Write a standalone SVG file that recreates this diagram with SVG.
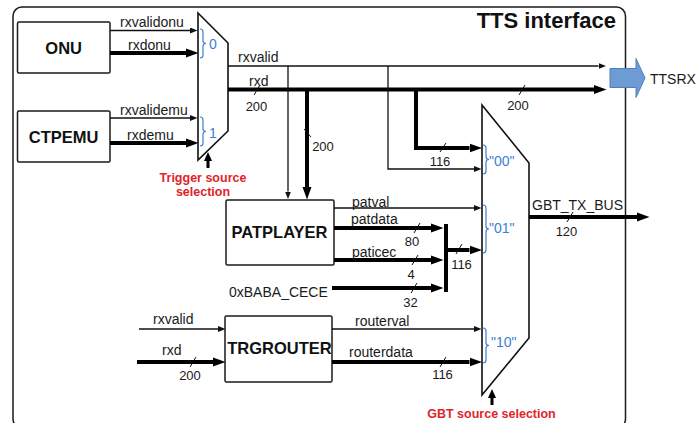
<svg xmlns="http://www.w3.org/2000/svg" width="697" height="423" viewBox="0 0 697 423">
<style>
text{font-family:"Liberation Sans",Arial,sans-serif;fill:#1a1a1a}
.lbl{font-size:14px}
.num{font-size:13px;text-anchor:middle}
.box{fill:#fff;stroke:#1a1a1a;stroke-width:1.5}
.bx{font-size:16.5px;font-weight:bold;text-anchor:middle;fill:#111}
.mux{fill:#fff;stroke:#111;stroke-width:1.6;stroke-linejoin:miter}
.thin{fill:none;stroke:#111;stroke-width:1.3}
.thick{fill:none;stroke:#000;stroke-width:4;stroke-linejoin:miter}
.sl{stroke:#111;stroke-width:1}
.brace{fill:none;stroke:#3b7fd4;stroke-width:1.2}
.sel{font-size:14px;fill:#3b7fd4}
.red{font-size:12.5px;font-weight:bold;fill:#e0242c;text-anchor:middle}
</style>
<defs>
<marker id="ah" markerUnits="userSpaceOnUse" markerWidth="8" markerHeight="6" refX="0" refY="3" orient="auto"><path d="M0,0 L7.5,3 L0,6 z" fill="#111"/></marker>
<marker id="ahk" markerUnits="userSpaceOnUse" markerWidth="13" markerHeight="10" refX="0" refY="5" orient="auto"><path d="M0,0.5 L12.5,5 L0,9.5 z" fill="#000"/></marker>
</defs>
<g id="frame">
<rect x="13" y="7" width="612.5" height="421" rx="9" fill="#fff" stroke="#1a1a1a" stroke-width="1.5"/>
<text x="616" y="28" style="font-size:22px;font-weight:bold;text-anchor:end;fill:#111">TTS interface</text>
</g>
<g id="onu"><rect class="box" x="17.5" y="22" width="92.5" height="51" rx="1.5"/><text class="bx" x="63.7" y="54">ONU</text></g>
<g id="ctpemu"><rect class="box" x="17.5" y="111" width="92.5" height="51" rx="1.5"/><text class="bx" x="63.7" y="143">CTPEMU</text></g>
<g id="mux1">
<polygon class="mux" points="198,13 228,43 228,131 198,160"/>
<path class="brace" d="M200,29 q3,0 3,3 V40.5 q0,3 3,3 q-3,0 -3,3 V55 q0,3 -3,3"/>
<path class="brace" d="M200,117 q3,0 3,3 V128.5 q0,3 3,3 q-3,0 -3,3 V143 q0,3 -3,3"/>
<text class="sel" x="209" y="49">0</text>
<text class="sel" x="209" y="138">1</text>
</g>
<g id="mux2">
<polygon class="mux" points="482,105 529,163 529,338 482,395"/>
<path class="brace" d="M483,145 q3,0 3,3 V156.5 q0,3 3,3 q-3,0 -3,3 V171 q0,3 -3,3"/>
<path class="brace" d="M483,205 q3,0 3,3 V226 q0,3 3,3 q-3,0 -3,3 V250 q0,3 -3,3"/>
<path class="brace" d="M483,328 q3,0 3,3 V342.5 q0,3 3,3 q-3,0 -3,3 V360 q0,3 -3,3"/>
<text class="sel" x="489" y="166">"00"</text>
<text class="sel" x="489" y="233">"01"</text>
<text class="sel" x="491" y="347">"10"</text>
</g>
<g id="patplayer"><rect class="box" x="226" y="200" width="108" height="65" rx="1.5"/><text class="bx" x="279.5" y="238">PATPLAYER</text></g>
<g id="trgrouter"><rect class="box" x="225" y="316" width="107" height="66" rx="1.5"/><text class="bx" x="279.5" y="354">TRGROUTER</text></g>
<g id="connectors">
<path class="thin" d="M110,30.5 H190" marker-end="url(#ah)"/>
<path class="thick" d="M110,53 H186" marker-end="url(#ahk)"/>
<path class="thin" d="M110,118 H190" marker-end="url(#ah)"/>
<path class="thick" d="M110,143 H186" marker-end="url(#ahk)"/>
<path class="thin" d="M228,66 H598.5" marker-end="url(#ah)"/>
<path class="thick" d="M228,89.5 H594" marker-end="url(#ahk)"/>
<path class="thin" d="M288,66 V191.5" marker-end="url(#ah)"/>
<path class="thick" d="M307,89.5 V187" marker-end="url(#ahk)"/>
<path class="thin" d="M388,66 V169 H474" marker-end="url(#ah)"/>
<path class="thick" d="M416,89.5 V148 H469.5" marker-end="url(#ahk)"/>
<path class="thin" d="M334,208 H474" marker-end="url(#ah)"/>
<path class="thick" d="M334,228 H431" marker-end="url(#ahk)"/>
<path class="thick" d="M334,260 H431" marker-end="url(#ahk)"/>
<path class="thick" d="M332,288 H431" marker-end="url(#ahk)"/>
<rect x="444" y="224" width="4" height="68" fill="#000"/>
<path class="thick" d="M448,250 H469.5" marker-end="url(#ahk)"/>
<path class="thin" d="M139,329 H218" marker-end="url(#ah)"/>
<path class="thick" d="M137,362 H213" marker-end="url(#ahk)"/>
<path class="thin" d="M332,329 H474" marker-end="url(#ah)"/>
<path class="thick" d="M332,362 H469.5" marker-end="url(#ahk)"/>
<path class="thick" d="M529,217 H637" marker-end="url(#ahk)"/>
<line x1="208" y1="168" x2="208" y2="160" stroke="#000" stroke-width="3"/>
<polygon points="204,161 212,161 208,152" fill="#000"/>
<line x1="492" y1="405" x2="492" y2="397" stroke="#000" stroke-width="3"/>
<polygon points="488,398 496,398 492,389" fill="#000"/>
<g id="slashes">
<line class="sl" x1="254" y1="95" x2="260" y2="85"/>
<line class="sl" x1="519" y1="95" x2="525" y2="85"/>
<line class="sl" x1="304" y1="129" x2="311" y2="137"/>
<line class="sl" x1="440" y1="152" x2="446" y2="143"/>
<line class="sl" x1="414" y1="233" x2="420" y2="223"/>
<line class="sl" x1="412" y1="265" x2="418" y2="255"/>
<line class="sl" x1="411" y1="293" x2="417" y2="283"/>
<line class="sl" x1="456" y1="254" x2="462" y2="244"/>
<line class="sl" x1="190" y1="367" x2="196" y2="357"/>
<line class="sl" x1="440" y1="367" x2="446" y2="357"/>
<line class="sl" x1="567" y1="222" x2="573" y2="212"/>
</g>
</g>
<g id="ttsrx">
<path d="M610,68.5 H636 V58.5 L645,78 L636,97.5 V87.5 H610 z" fill="#6d9bd3" stroke="#4f7fb8" stroke-width="1"/>
<text class="lbl" x="650" y="84">TTSRX</text>
</g>
<g id="labels">
<text class="lbl" x="120" y="27">rxvalidonu</text>
<text class="lbl" x="128" y="50">rxdonu</text>
<text class="lbl" x="120" y="115">rxvalidemu</text>
<text class="lbl" x="127" y="140">rxdemu</text>
<text class="lbl" x="238" y="62">rxvalid</text>
<text class="lbl" x="249" y="86">rxd</text>
<text class="num" x="256.5" y="110.5">200</text>
<text class="num" x="518" y="110">200</text>
<text class="num" x="323" y="151">200</text>
<text class="num" x="440" y="166">116</text>
<text class="lbl" x="352" y="207">patval</text>
<text class="lbl" x="351" y="224">patdata</text>
<text class="lbl" x="352" y="256.5">paticec</text>
<text class="num" x="412" y="246">80</text>
<text class="num" x="411" y="279">4</text>
<text class="num" x="410.5" y="306.5">32</text>
<text class="num" x="461.5" y="269">116</text>
<text class="lbl" x="229" y="297">0xBABA_CECE</text>
<text class="lbl" x="153" y="324">rxvalid</text>
<text class="lbl" x="162" y="355">rxd</text>
<text class="num" x="190" y="380">200</text>
<text class="lbl" x="355" y="326">routerval</text>
<text class="lbl" x="349" y="356.5">routerdata</text>
<text class="num" x="442.5" y="379">116</text>
<text class="lbl" x="532" y="210">GBT_TX_BUS</text>
<text class="num" x="566.5" y="236">120</text>
<text class="red" x="203" y="181.5">Trigger source</text>
<text class="red" x="203" y="195.5">selection</text>
<text class="red" x="491.5" y="418">GBT source selection</text>
</g>
</svg>
